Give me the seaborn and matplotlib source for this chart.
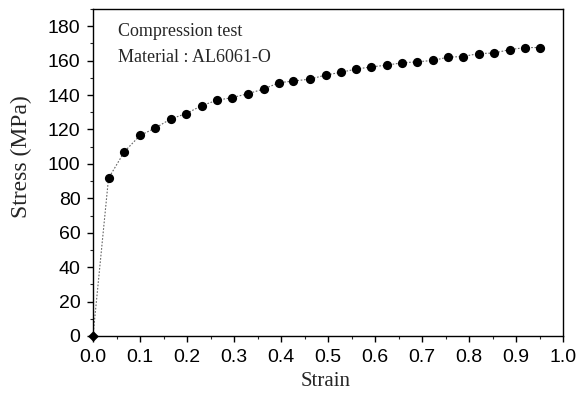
import matplotlib
matplotlib.use("Agg")
import matplotlib.pyplot as plt
import seaborn as sns
import pandas as pd
from matplotlib.ticker import MultipleLocator

strain = [0.0, 0.033, 0.067, 0.100, 0.132, 0.166, 0.198, 0.231, 0.264, 0.296,
          0.330, 0.363, 0.396, 0.426, 0.462, 0.495, 0.527, 0.560, 0.591, 0.625,
          0.657, 0.689, 0.723, 0.755, 0.787, 0.821, 0.853, 0.887, 0.919, 0.951]
stress = [0.0, 91.6, 107.2, 116.5, 120.8, 126.2, 129.2, 133.8, 137.0, 138.5,
          140.8, 143.5, 147.2, 148.1, 149.3, 151.6, 153.2, 155.1, 156.3, 157.4,
          158.7, 159.3, 160.1, 162.0, 162.4, 164.1, 164.4, 166.4, 167.6, 167.6]
x_ticks = [0.0, 0.1, 0.2, 0.3, 0.4, 0.5, 0.6, 0.7, 0.8, 0.9, 1.0]
y_ticks = [0, 20, 40, 60, 80, 100, 120, 140, 160, 180]
annot_lines = ["Compression test", "Material : AL6061-O"]

df = pd.DataFrame({"Strain": strain, "Stress": stress})

sns.set_style("ticks")
plt.rcParams["font.family"] = ["Liberation Sans", "DejaVu Sans"]

fig = plt.figure(figsize=(5.79, 3.97), dpi=100)
ax = fig.add_axes([93/579, 1-336/397, (563-93)/579, (336-9)/397])

sns.lineplot(data=df, x="Strain", y="Stress", ax=ax, color="#666666",
             linestyle=(0, (1.5, 1.5)), linewidth=0.8)
sns.scatterplot(data=df.iloc[1:], x="Strain", y="Stress", ax=ax, color="black",
                s=44, edgecolor="black", linewidth=0, zorder=3)
sns.scatterplot(data=df.iloc[:1], x="Strain", y="Stress", ax=ax, color="black",
                marker="D", s=30, edgecolor="black", linewidth=0, zorder=4,
                clip_on=False)

ax.set_xlim(0, 1.0)
ax.set_ylim(0, 190)
ax.set_xticks(x_ticks)
ax.set_yticks(y_ticks)
ax.set_xticklabels([f"{v:.1f}" for v in x_ticks])
ax.set_yticklabels([str(v) for v in y_ticks])
ax.xaxis.set_minor_locator(MultipleLocator(0.05))
ax.yaxis.set_minor_locator(MultipleLocator(10))
ax.tick_params(which="major", direction="out", length=4, width=1,
               labelsize=14, colors="black", pad=5)
ax.tick_params(which="minor", direction="out", length=2.5, width=0.8)
ax.tick_params(top=False, right=False)
for s in ax.spines.values():
    s.set_color("black")
    s.set_linewidth(1.0)

ax.set_xlabel("Strain", fontsize=15, family=["Liberation Serif"])
ax.set_ylabel("Stress (MPa)", fontsize=17, family=["Liberation Serif"])
ax.xaxis.set_label_coords(0.494, -0.11)
ax.yaxis.set_label_coords(-0.13, 0.55)

ax.text(0.053, 0.93, annot_lines[0], transform=ax.transAxes, fontsize=13,
        family=["Liberation Serif"], va="center", ha="left")
ax.text(0.053, 0.852, annot_lines[1], transform=ax.transAxes, fontsize=13,
        family=["Liberation Serif"], va="center", ha="left")

fig.savefig("out.png", dpi=100)
